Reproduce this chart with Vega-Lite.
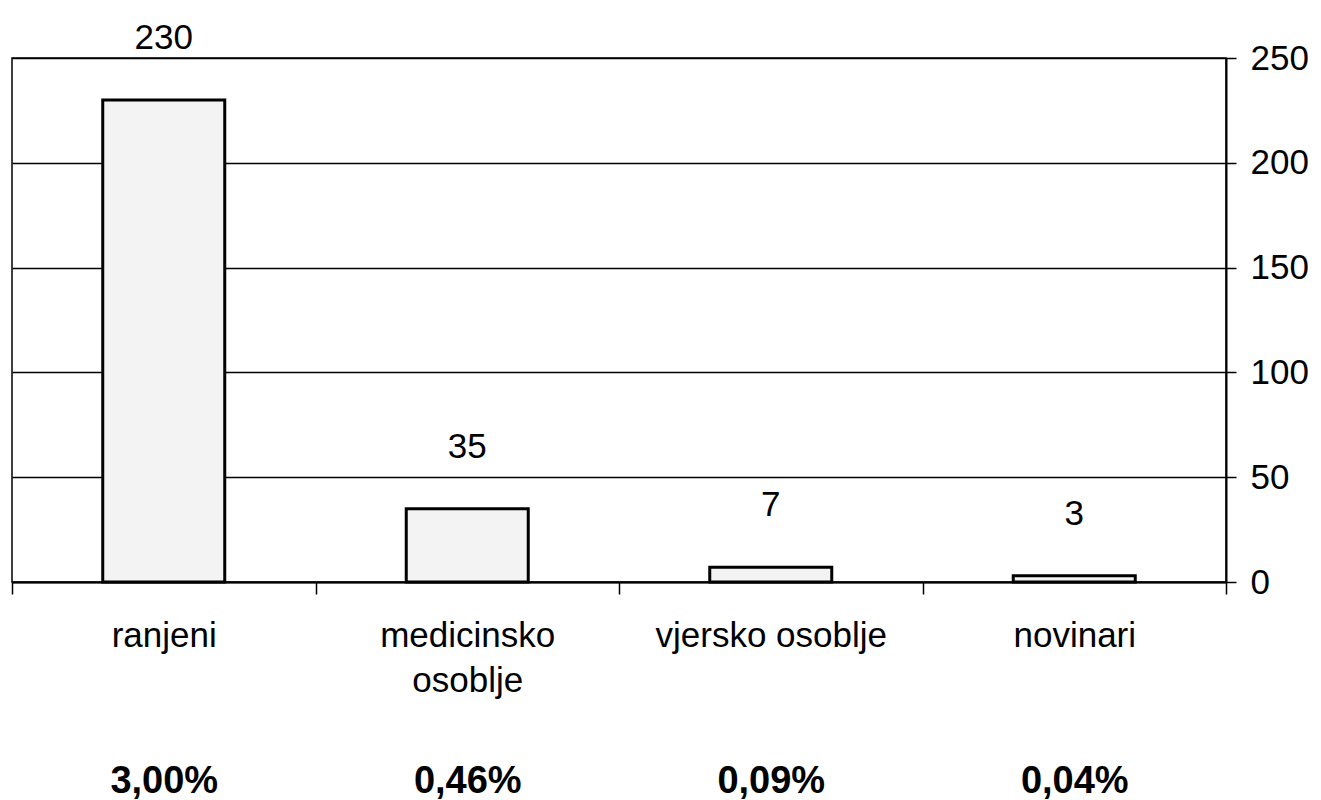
{
  "$schema": "https://vega.github.io/schema/vega-lite/v6.json",
  "width": 1214,
  "height": 524,
  "autosize": {"type": "none"},
  "padding": {"left": 12, "top": 58, "right": 95, "bottom": 218},
  "background": "white",
  "config": {"view": {"stroke": "black", "strokeWidth": 1.5}, "font": "Liberation Sans"},
  "data": {"values": [
    {"kat": "ranjeni", "broj": 230, "udio": "3,00%"},
    {"kat": "medicinsko osoblje", "broj": 35, "udio": "0,46%"},
    {"kat": "vjersko osoblje", "broj": 7, "udio": "0,09%"},
    {"kat": "novinari", "broj": 3, "udio": "0,04%"}
  ]},
  "layer": [
    {
      "layer": [
        {
          "mark": {"type": "bar", "fill": "#f3f3f3", "stroke": "black", "strokeWidth": 3, "width": {"band": 0.402}},
          "encoding": {
            "x": {
              "field": "kat", "type": "nominal", "sort": null,
              "scale": {"paddingInner": 0, "paddingOuter": 0},
              "axis": {
                "title": null, "labelAngle": 0, "tickBand": "extent", "tickSize": 12,
                "tickColor": "black", "tickWidth": 1.5, "domainColor": "black", "domainWidth": 2,
                "labelFont": "Liberation Sans", "labelFontSize": 35, "labelColor": "black",
                "labelPadding": 24, "labelLineHeight": 45, "labelLimit": 0,
                "labelExpr": "datum.value == 'medicinsko osoblje' ? ['medicinsko', 'osoblje'] : datum.value"
              }
            },
            "y": {
              "field": "broj", "type": "quantitative",
              "scale": {"domain": [0, 250], "nice": false},
              "axis": {
                "orient": "right", "title": null, "values": [0, 50, 100, 150, 200, 250],
                "grid": true, "gridColor": "black", "gridWidth": 1.5, "gridOpacity": 1,
                "tickSize": 10, "tickColor": "black", "tickWidth": 1.5,
                "domainColor": "black", "domainWidth": 2,
                "labelFont": "Liberation Sans", "labelFontSize": 35, "labelColor": "black", "labelPadding": 14
              }
            }
          }
        },
        {
          "mark": {"type": "text", "dy": -62, "fontSize": 35, "color": "black", "font": "Liberation Sans"},
          "encoding": {
            "x": {"field": "kat", "type": "nominal", "sort": null},
            "y": {"field": "broj", "type": "quantitative"},
            "text": {"field": "broj", "type": "quantitative"}
          }
        }
      ]
    },
    {
      "mark": {"type": "text", "text": ""},
      "encoding": {
        "x": {
          "field": "udio", "type": "nominal", "sort": null,
          "axis": {
            "title": null, "orient": "bottom", "domain": false, "ticks": false, "labelAngle": 0,
            "labelFont": "Liberation Sans", "labelFontSize": 38, "labelFontWeight": "bold",
            "labelColor": "black", "labelPadding": 180
          }
        }
      }
    }
  ],
  "resolve": {"scale": {"x": "independent"}}
}
